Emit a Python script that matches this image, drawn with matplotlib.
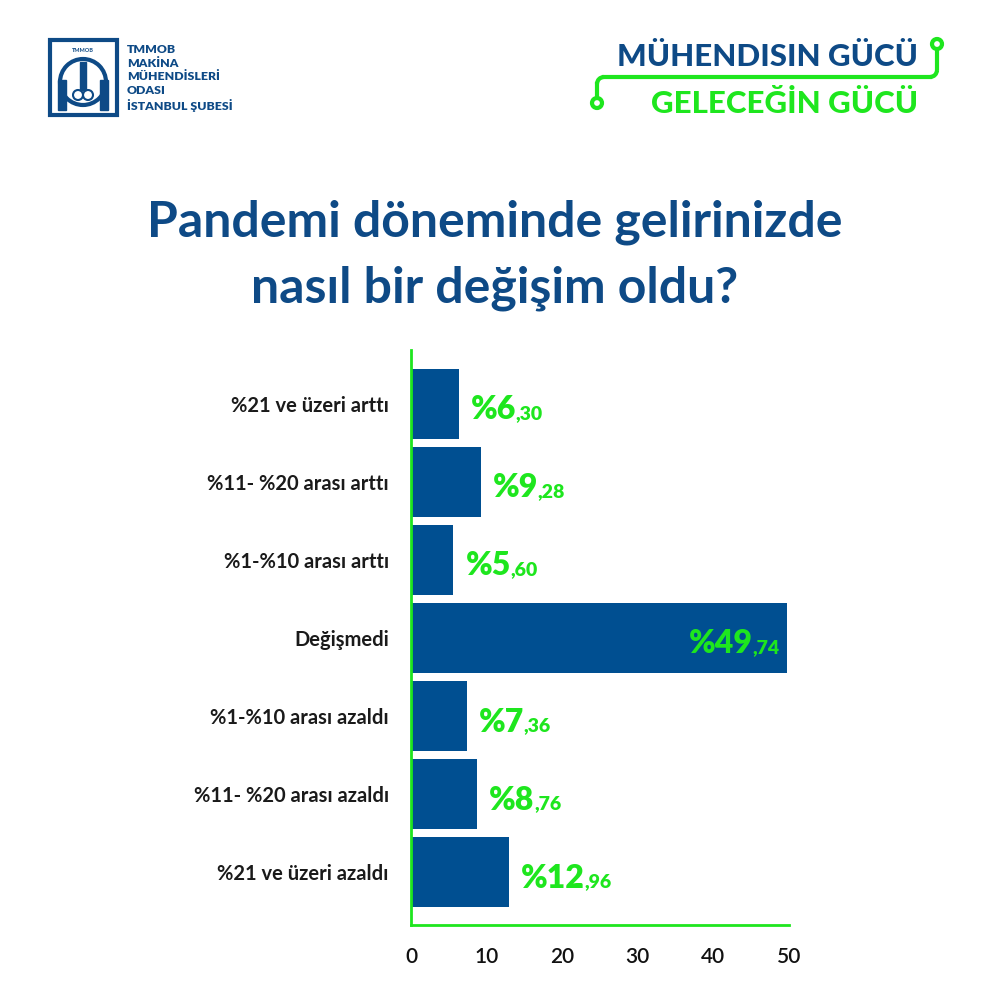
import matplotlib.pyplot as plt
from matplotlib.patches import Rectangle, Circle, Arc

# veri
categories = ['%21 ve üzeri arttı', '%11- %20 arası arttı', '%1-%10 arası arttı',
              'Değişmedi', '%1-%10 arası azaldı', '%11- %20 arası azaldı',
              '%21 ve üzeri azaldı']
values = [6.30, 9.28, 5.60, 49.74, 7.36, 8.76, 12.96]
whole = ['%6', '%9', '%5', '%49', '%7', '%8', '%12']
frac = [',30', ',28', ',60', ',74', ',36', ',76', ',96']
xticks = [0, 10, 20, 30, 40, 50]

BLUE = '#004f91'
TITLE = '#0e4a86'
GREEN = '#1ee61e'
plt.rcParams['font.family'] = ['Lato', 'DejaVu Sans']

fig = plt.figure(figsize=(10, 10), dpi=100)
fig.patch.set_facecolor('white')

ax = fig.add_axes([0.411, 0.075, 0.378, 0.575])
ypos = list(range(len(values) - 1, -1, -1))
ax.barh(ypos, values, height=0.9, color=BLUE, zorder=2)
ax.set_xlim(0, 50)
ax.set_ylim(-0.68, 6.69)
for s in ['top', 'right']:
    ax.spines[s].set_visible(False)
for s in ['left', 'bottom']:
    ax.spines[s].set_color(GREEN)
    ax.spines[s].set_linewidth(2)
ax.set_yticks(ypos)
ax.set_yticklabels(categories, fontsize=14.5, fontweight='bold', color='#1a1a1a')
ax.set_xticks(xticks)
ax.set_xticklabels([str(t) for t in xticks], fontsize=15, fontweight='semibold', color='#111111')
ax.tick_params(axis='both', length=0)
ax.tick_params(axis='y', pad=16)
ax.tick_params(axis='x', pad=16)

# değer etiketleri
for y, v, w, f in zip(ypos, values, whole, frac):
    if v > 40:
        x0 = v - 13.0
    else:
        x0 = v + 1.6
    yb = y - 0.2
    t = ax.text(x0, yb, w, fontsize=23, fontweight='heavy', color=GREEN,
                va='baseline', ha='left')
    fig.canvas.draw()
    bb = t.get_window_extent()
    xe = ax.transData.inverted().transform((bb.x1, 0))[0]
    ax.text(xe - 0.1, yb, f, fontsize=14, fontweight='heavy', color=GREEN,
            va='baseline', ha='left')

# başlık
fig.text(0.495, 0.745, 'Pandemi döneminde gelirinizde\nnasıl bir değişim oldu?',
         ha='center', va='center', fontsize=36, fontweight='bold', color=TITLE,
         linespacing=1.55)

# logo
lg = fig.add_axes([0, 0, 1, 1], zorder=-1)
lg.set_xlim(0, 1000)
lg.set_ylim(1000, 0)
lg.axis('off')
lg.add_patch(Rectangle((50, 40), 67, 75, fill=False, ec=TITLE, lw=3))
lg.add_patch(Circle((83, 82), 23, fill=False, ec=TITLE, lw=3))
lg.add_patch(Rectangle((58, 80), 8, 30, color=TITLE))
lg.add_patch(Rectangle((100, 80), 8, 30, color=TITLE))
lg.add_patch(Rectangle((80, 62), 6, 28, color=TITLE))
lg.add_patch(Circle((78, 95), 5, fill=False, ec=TITLE, lw=1.5))
lg.add_patch(Circle((88, 95), 5, fill=False, ec=TITLE, lw=1.5))
lg.text(83, 50, 'TMMOB', ha='center', va='center', fontsize=4, fontweight='bold', color=TITLE)
lg.text(127, 78, 'TMMOB\nMAKİNA\nMÜHENDİSLERİ\nODASI\nİSTANBUL ŞUBESİ', ha='left', va='center',
        fontsize=8.8, fontweight='heavy', color=TITLE, linespacing=1.3)

# sağ üst
lg.text(918, 57, 'MÜHENDISIN GÜCÜ', ha='right', va='center', fontsize=22.5,
        fontweight='black', color=TITLE)
lg.text(918, 104, 'GELECEĞİN GÜCÜ', ha='right', va='center', fontsize=22.5,
        fontweight='black', color=GREEN)
lg.plot([937, 937], [49, 70], color=GREEN, lw=3, solid_capstyle='butt')
lg.add_patch(Arc((930, 70), 14, 14, theta1=0, theta2=90, color=GREEN, lw=3))
lg.plot([930, 604], [77, 77], color=GREEN, lw=3)
lg.add_patch(Arc((604, 84), 14, 14, theta1=180, theta2=270, color=GREEN, lw=3))
lg.plot([597, 597], [84, 98], color=GREEN, lw=3)
lg.add_patch(Circle((937, 44), 5, fill=False, ec=GREEN, lw=3))
lg.add_patch(Circle((597, 103), 5, fill=False, ec=GREEN, lw=3))

fig.savefig('out.png', dpi=100, facecolor='white')
